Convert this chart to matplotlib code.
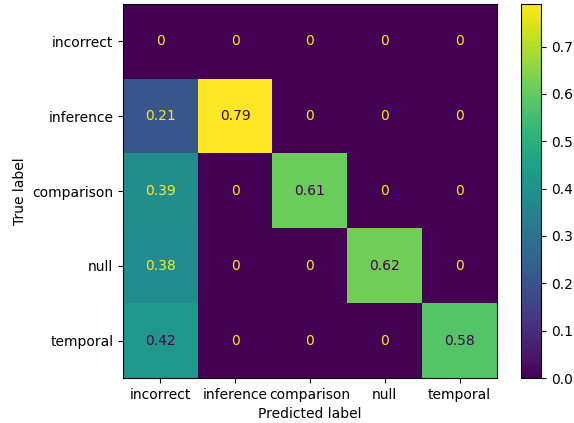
import matplotlib.pyplot as plt
import numpy as np

labels = ["incorrect", "inference", "comparison", "null", "temporal"]
cm = np.array([
    [0.00, 0.00, 0.00, 0.00, 0.00],
    [0.21, 0.79, 0.00, 0.00, 0.00],
    [0.39, 0.00, 0.61, 0.00, 0.00],
    [0.38, 0.00, 0.00, 0.62, 0.00],
    [0.42, 0.00, 0.00, 0.00, 0.58],
])

fig = plt.figure(figsize=(5.74, 4.23), dpi=100)
ax = fig.add_axes([123 / 574, 45 / 423, 374 / 574, 374 / 423])
cax = fig.add_axes([521 / 574, 45 / 423, 20 / 574, 374 / 423])

cmap = plt.cm.viridis
im = ax.imshow(cm, cmap=cmap, interpolation="nearest")
fig.colorbar(im, cax=cax)

# sklearn-style text colours
thresh = (cm.max() + cm.min()) / 2.0
for i in range(cm.shape[0]):
    for j in range(cm.shape[1]):
        val = cm[i, j]
        color = cmap(0) if val > thresh else cmap(256)
        ax.text(j, i, f"{val:.2g}", ha="center", va="center", color=color)

ax.set_xticks(np.arange(len(labels)))
ax.set_yticks(np.arange(len(labels)))
ax.set_xticklabels(labels)
ax.set_yticklabels(labels)
ax.set_xlabel("Predicted label")
ax.set_ylabel("True label")

fig.savefig("out.png", dpi=100)
